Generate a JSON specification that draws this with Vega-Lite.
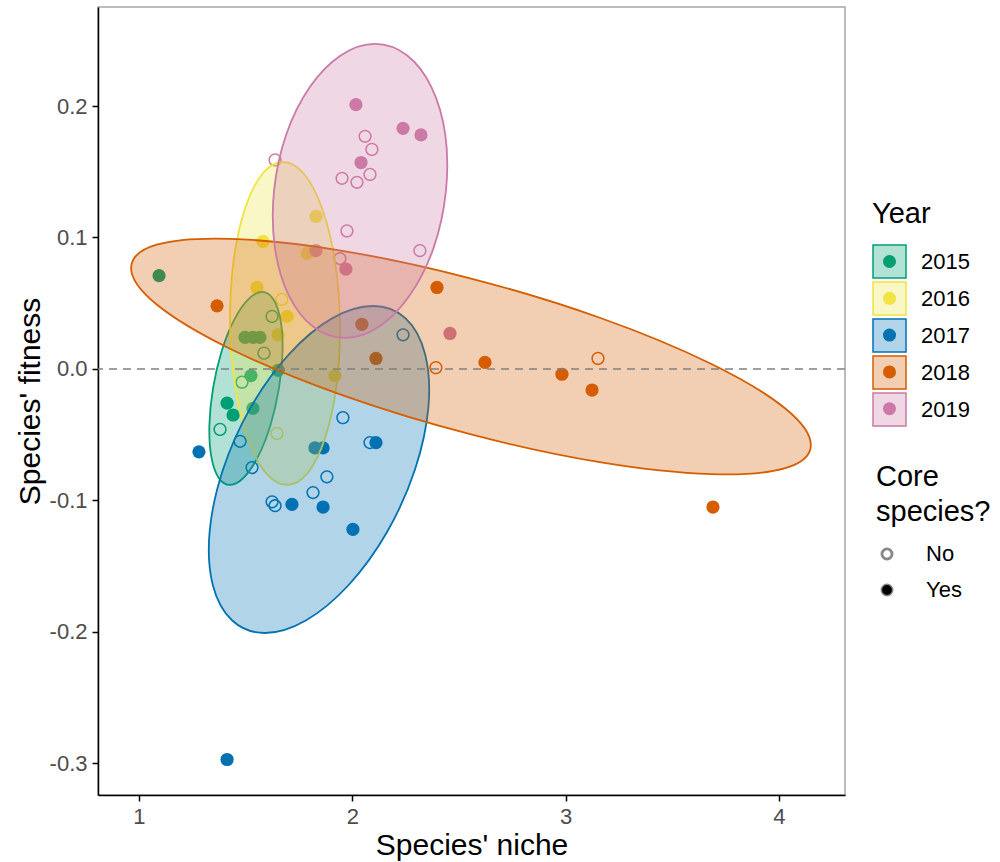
{
  "$schema": "https://vega.github.io/schema/vega-lite/v6.json",
  "width": 747,
  "height": 788,
  "autosize": {"type": "none"},
  "padding": {"left": 98, "top": 7, "right": 155, "bottom": 67},
  "background": "white",
  "config": {
    "font": "Liberation Sans",
    "view": {"stroke": "#a6a6a6", "strokeWidth": 1.5},
    "axis": {"domainColor": "black", "domainWidth": 1.5, "tickColor": "black", "tickWidth": 1.5, "tickSize": 6, "labelColor": "#4d4d4d", "labelFontSize": 22, "labelPadding": 5, "titleFontSize": 30, "titleFontWeight": "normal", "titleColor": "black", "grid": false},
    "legend": {"titleFontSize": 29, "titleFontWeight": "normal", "titleColor": "black", "labelFontSize": 22, "labelColor": "black", "padding": 0}
  },
  "datasets": {
    "pts": [
      {"Year": "2015", "Core": "Yes", "niche": 1.094, "fitness": 0.071},
      {"Year": "2015", "Core": "Yes", "niche": 1.497, "fitness": 0.024},
      {"Year": "2015", "Core": "Yes", "niche": 1.534, "fitness": 0.024},
      {"Year": "2015", "Core": "Yes", "niche": 1.567, "fitness": 0.024},
      {"Year": "2015", "Core": "No", "niche": 1.586, "fitness": 0.012},
      {"Year": "2015", "Core": "No", "niche": 1.624, "fitness": 0.040},
      {"Year": "2015", "Core": "Yes", "niche": 1.525, "fitness": -0.005},
      {"Year": "2015", "Core": "No", "niche": 1.483, "fitness": -0.010},
      {"Year": "2015", "Core": "Yes", "niche": 1.413, "fitness": -0.026},
      {"Year": "2015", "Core": "Yes", "niche": 1.441, "fitness": -0.035},
      {"Year": "2015", "Core": "No", "niche": 1.380, "fitness": -0.046},
      {"Year": "2015", "Core": "Yes", "niche": 1.534, "fitness": -0.030},
      {"Year": "2015", "Core": "Yes", "niche": 1.652, "fitness": -0.001},
      {"Year": "2016", "Core": "Yes", "niche": 1.830, "fitness": 0.116},
      {"Year": "2016", "Core": "Yes", "niche": 1.581, "fitness": 0.097},
      {"Year": "2016", "Core": "Yes", "niche": 1.788, "fitness": 0.088},
      {"Year": "2016", "Core": "Yes", "niche": 1.553, "fitness": 0.062},
      {"Year": "2016", "Core": "Yes", "niche": 1.694, "fitness": 0.040},
      {"Year": "2016", "Core": "Yes", "niche": 1.652, "fitness": 0.026},
      {"Year": "2016", "Core": "Yes", "niche": 1.919, "fitness": -0.005},
      {"Year": "2016", "Core": "No", "niche": 1.647, "fitness": -0.049},
      {"Year": "2016", "Core": "No", "niche": 1.670, "fitness": 0.053},
      {"Year": "2017", "Core": "Yes", "niche": 1.281, "fitness": -0.063},
      {"Year": "2017", "Core": "Yes", "niche": 1.413, "fitness": -0.297},
      {"Year": "2017", "Core": "No", "niche": 1.474, "fitness": -0.055},
      {"Year": "2017", "Core": "No", "niche": 1.530, "fitness": -0.075},
      {"Year": "2017", "Core": "No", "niche": 1.956, "fitness": -0.037},
      {"Year": "2017", "Core": "No", "niche": 2.083, "fitness": -0.056},
      {"Year": "2017", "Core": "Yes", "niche": 2.111, "fitness": -0.056},
      {"Year": "2017", "Core": "Yes", "niche": 1.825, "fitness": -0.060},
      {"Year": "2017", "Core": "Yes", "niche": 1.863, "fitness": -0.060},
      {"Year": "2017", "Core": "No", "niche": 1.881, "fitness": -0.082},
      {"Year": "2017", "Core": "No", "niche": 1.816, "fitness": -0.094},
      {"Year": "2017", "Core": "No", "niche": 1.624, "fitness": -0.101},
      {"Year": "2017", "Core": "No", "niche": 1.638, "fitness": -0.104},
      {"Year": "2017", "Core": "Yes", "niche": 1.717, "fitness": -0.103},
      {"Year": "2017", "Core": "Yes", "niche": 1.863, "fitness": -0.105},
      {"Year": "2017", "Core": "Yes", "niche": 2.003, "fitness": -0.122},
      {"Year": "2017", "Core": "No", "niche": 2.238, "fitness": 0.026},
      {"Year": "2018", "Core": "Yes", "niche": 1.366, "fitness": 0.048},
      {"Year": "2018", "Core": "Yes", "niche": 2.397, "fitness": 0.062},
      {"Year": "2018", "Core": "No", "niche": 2.392, "fitness": 0.001},
      {"Year": "2018", "Core": "Yes", "niche": 2.622, "fitness": 0.005},
      {"Year": "2018", "Core": "Yes", "niche": 2.983, "fitness": -0.004},
      {"Year": "2018", "Core": "Yes", "niche": 3.124, "fitness": -0.016},
      {"Year": "2018", "Core": "No", "niche": 3.152, "fitness": 0.008},
      {"Year": "2018", "Core": "Yes", "niche": 3.691, "fitness": -0.105},
      {"Year": "2018", "Core": "Yes", "niche": 2.111, "fitness": 0.008},
      {"Year": "2018", "Core": "Yes", "niche": 2.045, "fitness": 0.034},
      {"Year": "2019", "Core": "Yes", "niche": 2.017, "fitness": 0.201},
      {"Year": "2019", "Core": "Yes", "niche": 2.238, "fitness": 0.183},
      {"Year": "2019", "Core": "Yes", "niche": 2.322, "fitness": 0.178},
      {"Year": "2019", "Core": "No", "niche": 2.060, "fitness": 0.177},
      {"Year": "2019", "Core": "No", "niche": 2.092, "fitness": 0.167},
      {"Year": "2019", "Core": "Yes", "niche": 2.041, "fitness": 0.157},
      {"Year": "2019", "Core": "No", "niche": 1.952, "fitness": 0.145},
      {"Year": "2019", "Core": "No", "niche": 2.022, "fitness": 0.142},
      {"Year": "2019", "Core": "No", "niche": 2.083, "fitness": 0.148},
      {"Year": "2019", "Core": "No", "niche": 1.975, "fitness": 0.105},
      {"Year": "2019", "Core": "No", "niche": 2.317, "fitness": 0.090},
      {"Year": "2019", "Core": "Yes", "niche": 1.830, "fitness": 0.090},
      {"Year": "2019", "Core": "No", "niche": 1.942, "fitness": 0.084},
      {"Year": "2019", "Core": "Yes", "niche": 1.970, "fitness": 0.076},
      {"Year": "2019", "Core": "Yes", "niche": 2.458, "fitness": 0.027},
      {"Year": "2019", "Core": "No", "niche": 1.638, "fitness": 0.159}
    ],
    "ell": [
      {"Year": "2015", "k": 0, "niche": 1.577, "fitness": 0.0586},
      {"Year": "2015", "k": 1, "niche": 1.630, "fitness": 0.0530},
      {"Year": "2015", "k": 2, "niche": 1.664, "fitness": 0.0370},
      {"Year": "2015", "k": 3, "niche": 1.673, "fitness": 0.0133},
      {"Year": "2015", "k": 4, "niche": 1.656, "fitness": -0.0148},
      {"Year": "2015", "k": 5, "niche": 1.616, "fitness": -0.0430},
      {"Year": "2015", "k": 6, "niche": 1.558, "fitness": -0.0667},
      {"Year": "2015", "k": 7, "niche": 1.491, "fitness": -0.0827},
      {"Year": "2015", "k": 8, "niche": 1.427, "fitness": -0.0882},
      {"Year": "2015", "k": 9, "niche": 1.373, "fitness": -0.0827},
      {"Year": "2015", "k": 10, "niche": 1.339, "fitness": -0.0667},
      {"Year": "2015", "k": 11, "niche": 1.330, "fitness": -0.0430},
      {"Year": "2015", "k": 12, "niche": 1.347, "fitness": -0.0148},
      {"Year": "2015", "k": 13, "niche": 1.387, "fitness": 0.0133},
      {"Year": "2015", "k": 14, "niche": 1.445, "fitness": 0.0370},
      {"Year": "2015", "k": 15, "niche": 1.512, "fitness": 0.0530},
      {"Year": "2016", "k": 0, "niche": 1.675, "fitness": 0.1574},
      {"Year": "2016", "k": 1, "niche": 1.775, "fitness": 0.1481},
      {"Year": "2016", "k": 2, "niche": 1.860, "fitness": 0.1214},
      {"Year": "2016", "k": 3, "niche": 1.919, "fitness": 0.0817},
      {"Year": "2016", "k": 4, "niche": 1.942, "fitness": 0.0346},
      {"Year": "2016", "k": 5, "niche": 1.926, "fitness": -0.0125},
      {"Year": "2016", "k": 6, "niche": 1.873, "fitness": -0.0522},
      {"Year": "2016", "k": 7, "niche": 1.792, "fitness": -0.0789},
      {"Year": "2016", "k": 8, "niche": 1.694, "fitness": -0.0882},
      {"Year": "2016", "k": 9, "niche": 1.594, "fitness": -0.0789},
      {"Year": "2016", "k": 10, "niche": 1.509, "fitness": -0.0522},
      {"Year": "2016", "k": 11, "niche": 1.450, "fitness": -0.0125},
      {"Year": "2016", "k": 12, "niche": 1.427, "fitness": 0.0346},
      {"Year": "2016", "k": 13, "niche": 1.443, "fitness": 0.0817},
      {"Year": "2016", "k": 14, "niche": 1.496, "fitness": 0.1214},
      {"Year": "2016", "k": 15, "niche": 1.577, "fitness": 0.1481},
      {"Year": "2017", "k": 0, "niche": 2.097, "fitness": 0.0479},
      {"Year": "2017", "k": 1, "niche": 2.250, "fitness": 0.0385},
      {"Year": "2017", "k": 2, "niche": 2.341, "fitness": 0.0115},
      {"Year": "2017", "k": 3, "niche": 2.357, "fitness": -0.0288},
      {"Year": "2017", "k": 4, "niche": 2.294, "fitness": -0.0764},
      {"Year": "2017", "k": 5, "niche": 2.163, "fitness": -0.1240},
      {"Year": "2017", "k": 6, "niche": 1.983, "fitness": -0.1643},
      {"Year": "2017", "k": 7, "niche": 1.782, "fitness": -0.1913},
      {"Year": "2017", "k": 8, "niche": 1.591, "fitness": -0.2008},
      {"Year": "2017", "k": 9, "niche": 1.437, "fitness": -0.1913},
      {"Year": "2017", "k": 10, "niche": 1.346, "fitness": -0.1643},
      {"Year": "2017", "k": 11, "niche": 1.331, "fitness": -0.1240},
      {"Year": "2017", "k": 12, "niche": 1.394, "fitness": -0.0764},
      {"Year": "2017", "k": 13, "niche": 1.525, "fitness": -0.0288},
      {"Year": "2017", "k": 14, "niche": 1.705, "fitness": 0.0115},
      {"Year": "2017", "k": 15, "niche": 1.905, "fitness": 0.0385},
      {"Year": "2018", "k": 0, "niche": 4.150, "fitness": -0.0578},
      {"Year": "2018", "k": 1, "niche": 4.030, "fitness": -0.0754},
      {"Year": "2018", "k": 2, "niche": 3.684, "fitness": -0.0800},
      {"Year": "2018", "k": 3, "niche": 3.167, "fitness": -0.0711},
      {"Year": "2018", "k": 4, "niche": 2.557, "fitness": -0.0498},
      {"Year": "2018", "k": 5, "niche": 1.946, "fitness": -0.0195},
      {"Year": "2018", "k": 6, "niche": 1.429, "fitness": 0.0152},
      {"Year": "2018", "k": 7, "niche": 1.083, "fitness": 0.0490},
      {"Year": "2018", "k": 8, "niche": 0.963, "fitness": 0.0768},
      {"Year": "2018", "k": 9, "niche": 1.083, "fitness": 0.0945},
      {"Year": "2018", "k": 10, "niche": 1.429, "fitness": 0.0990},
      {"Year": "2018", "k": 11, "niche": 1.946, "fitness": 0.0901},
      {"Year": "2018", "k": 12, "niche": 2.557, "fitness": 0.0688},
      {"Year": "2018", "k": 13, "niche": 3.167, "fitness": 0.0386},
      {"Year": "2018", "k": 14, "niche": 3.684, "fitness": 0.0038},
      {"Year": "2018", "k": 15, "niche": 4.030, "fitness": -0.0300},
      {"Year": "2019", "k": 0, "niche": 2.106, "fitness": 0.2472},
      {"Year": "2019", "k": 1, "niche": 2.256, "fitness": 0.2386},
      {"Year": "2019", "k": 2, "niche": 2.371, "fitness": 0.2144},
      {"Year": "2019", "k": 3, "niche": 2.436, "fitness": 0.1782},
      {"Year": "2019", "k": 4, "niche": 2.439, "fitness": 0.1354},
      {"Year": "2019", "k": 5, "niche": 2.382, "fitness": 0.0925},
      {"Year": "2019", "k": 6, "niche": 2.271, "fitness": 0.0564},
      {"Year": "2019", "k": 7, "niche": 2.125, "fitness": 0.0321},
      {"Year": "2019", "k": 8, "niche": 1.966, "fitness": 0.0236},
      {"Year": "2019", "k": 9, "niche": 1.817, "fitness": 0.0321},
      {"Year": "2019", "k": 10, "niche": 1.701, "fitness": 0.0564},
      {"Year": "2019", "k": 11, "niche": 1.637, "fitness": 0.0925},
      {"Year": "2019", "k": 12, "niche": 1.633, "fitness": 0.1354},
      {"Year": "2019", "k": 13, "niche": 1.690, "fitness": 0.1782},
      {"Year": "2019", "k": 14, "niche": 1.801, "fitness": 0.2144},
      {"Year": "2019", "k": 15, "niche": 1.947, "fitness": 0.2386}
    ]
  },
  "layer": [
    {
      "data": {"name": "pts"},
      "mark": {"type": "point", "filled": true, "size": 175, "opacity": 1, "strokeWidth": 0},
      "encoding": {
        "x": {"field": "niche", "type": "quantitative", "title": "Species' niche", "scale": {"domain": [0.8078, 4.31], "nice": false, "zero": false}, "axis": {"values": [1, 2, 3, 4], "format": "d", "titlePadding": 3}},
        "y": {"field": "fitness", "type": "quantitative", "title": "Species' fitness", "scale": {"domain": [-0.324, 0.2753], "nice": false, "zero": false}, "axis": {"values": [-0.3, -0.2, -0.1, 0, 0.1, 0.2], "labelExpr": "datum.value < 0 ? '-' + format(-datum.value, '.1f') : format(datum.value, '.1f')", "titlePadding": 4}},
        "color": {"field": "Year", "type": "nominal", "scale": {"range": ["#009E73", "#F0E442", "#0072B2", "#D55E00", "#CC79A7"]},
          "legend": {"orient": "none", "legendX": 784, "legendY": 247, "zindex": 2, "title": null, "symbolType": "circle", "symbolSize": 170, "rowPadding": 21.8, "labelExpr": "''", "labelFontSize": 1}},
        "shape": {"field": "Core", "type": "nominal", "scale": {"domain": ["No", "Yes"], "range": ["M1,0A1,1,0,1,1,-1,0A1,1,0,1,1,1,0ZM0.77,0A0.77,0.77,0,1,0,-0.77,0A0.77,0.77,0,1,0,0.77,0Z", "circle"]},
          "legend": {"orient": "none", "legendX": 778, "legendY": 456, "title": ["Core", "species?"], "titleLineHeight": 35, "titlePadding": 16, "rowPadding": 14, "labelOffset": 28, "symbolSize": 130, "symbolFillColor": "black"}}
      }
    },
    {
      "data": {"name": "ell"},
      "mark": {"type": "line", "interpolate": "cardinal-closed", "fillOpacity": 0.3, "strokeWidth": 1.8},
      "encoding": {
        "x": {"field": "niche", "type": "quantitative", "title": "Species' niche"},
        "y": {"field": "fitness", "type": "quantitative", "title": "Species' fitness"},
        "order": {"field": "k", "type": "quantitative"},
        "stroke": {"field": "Year", "type": "nominal", "scale": {"range": ["#009E73", "#F0E442", "#0072B2", "#D55E00", "#CC79A7"]},
          "legend": {"orient": "none", "legendX": 774, "legendY": 193, "zindex": 1, "title": "Year", "titlePadding": 15, "symbolType": "square", "symbolSize": 1089, "rowPadding": -3, "labelOffset": 14,
            "encode": {"symbols": {"update": {"fillOpacity": {"value": 0.3}, "strokeWidth": {"value": 1.5}, "opacity": {"value": 1}}}}}},
        "fill": {"field": "Year", "type": "nominal", "scale": {"range": ["#009E73", "#F0E442", "#0072B2", "#D55E00", "#CC79A7"]},
          "legend": {"orient": "none", "legendX": 774, "legendY": 193, "zindex": 1, "title": "Year", "titlePadding": 15, "symbolType": "square", "symbolSize": 1089, "rowPadding": -3, "labelOffset": 14,
            "encode": {"symbols": {"update": {"fillOpacity": {"value": 0.3}, "strokeWidth": {"value": 1.5}, "opacity": {"value": 1}}}}}}
      }
    },
    {
      "data": {"values": [{}]},
      "mark": {"type": "rule", "strokeDash": [8, 6], "color": "#808080", "strokeWidth": 1.5},
      "encoding": {"y": {"datum": 0, "type": "quantitative"}}
    }
  ]
}
